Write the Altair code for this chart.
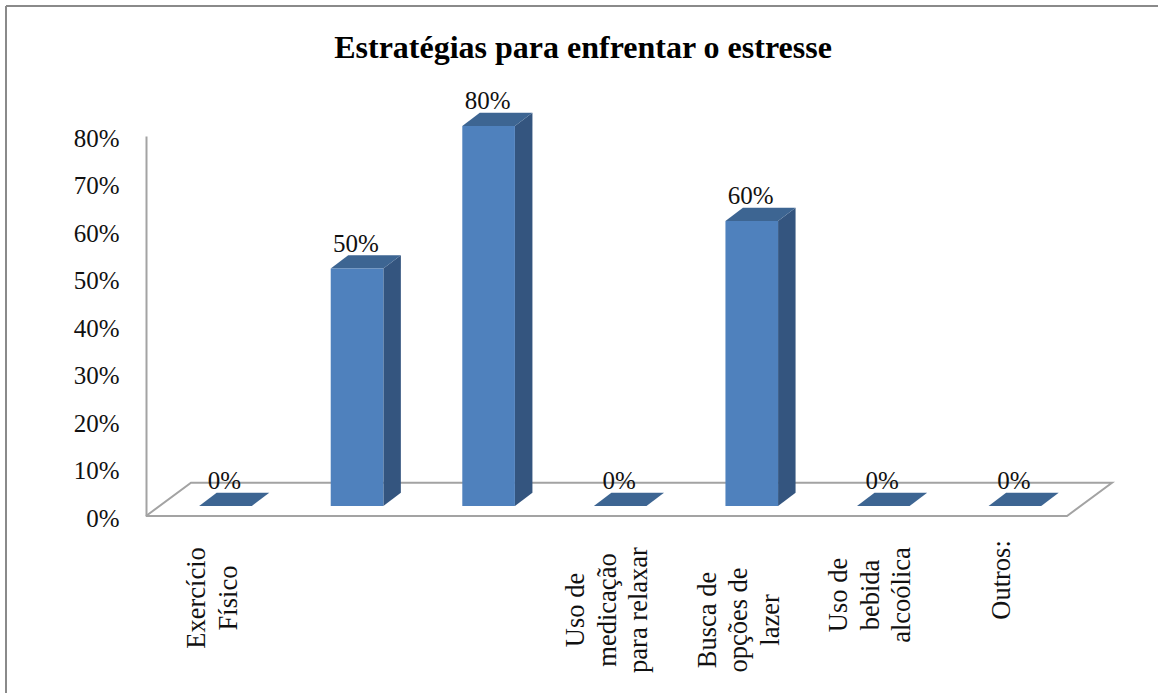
import altair as alt
import pandas as pd

# Survey results: share of respondents per coping strategy
categories = [
    "Exercício\nFísico",
    "",
    "",
    "Uso de\nmedicação\npara relaxar",
    "Busca de\nopções de\nlazer",
    "Uso de\nbebida\nalcoólica",
    "Outros:",
]
values = [0, 50, 80, 0, 60, 0, 0]
y_ticks = [0, 10, 20, 30, 40, 50, 60, 70, 80]
title_text = "Estratégias para enfrentar o estresse"

FONT = "Liberation Serif"
GREY = "#a3a3a3"
FRONT, TOP, SIDE = "#4f81bd", "#3d6592", "#34557f"

# Oblique projection: floor depth and bar depth, in axis units
FLOOR_DX, FLOOR_DY = 0.342, 7.0
BAR_DX, BAR_DY = 0.133, 2.82
BASE_LIFT = 2.1  # bars stand part-way back on the floor
BAR_START, BAR_WIDTH = 0.404, 0.40
n = len(categories)

PLOT_W, PLOT_H = 966, 380
PX_PER_X = PLOT_W / (n + FLOOR_DX)
PX_PER_Y = PLOT_H / 80

# Category label layout: distance of each text block's centre below the zero line, in px
LABEL_DROP = {0: 82, 3: 94, 4: 104, 5: 79, 6: 64}
LABEL_LINE_H = 31.5

x_scale = alt.Scale(domain=[0, n + FLOOR_DX], nice=False, zero=False)
y_scale = alt.Scale(domain=[0, 80], nice=False)
X = alt.X("x:Q", scale=x_scale, axis=None)

# Floor outline
floor = pd.DataFrame(
    {
        "x": [0, n, n + FLOOR_DX, FLOOR_DX, 0],
        "y": [0, 0, FLOOR_DY, FLOOR_DY, 0],
        "o": range(5),
    }
)
floor_layer = (
    alt.Chart(floor)
    .mark_line(color=GREY, strokeWidth=2, clip=False)
    .encode(
        x=X,
        y=alt.Y(
            "y:Q",
            scale=y_scale,
            axis=alt.Axis(
                values=y_ticks,
                title=None,
                labelExpr="datum.value + '%'",
                grid=False,
                ticks=False,
                domainColor=GREY,
                domainWidth=2,
                labelFont=FONT,
                labelFontSize=25,
                labelColor="#111111",
                labelPadding=27,
                labelOffset=2,
            ),
        ),
        order="o:Q",
    )
)

# Faces of each box, built from the series values
front_rows, top_rows, side_rows, label_rows, cat_rows = [], [], [], [], []
for i, (cat, v) in enumerate(zip(categories, values)):
    left = i + BAR_START
    right = left + BAR_WIDTH
    top_y = v + BASE_LIFT
    front_rows.append({"i": i, "x": left, "x2": right, "y": BASE_LIFT, "y2": top_y})
    top_rows += [
        {"i": i, "x": left, "y": top_y, "y2": top_y},
        {"i": i, "x": left + BAR_DX, "y": top_y + BAR_DY, "y2": top_y},
        {"i": i, "x": right, "y": top_y + BAR_DY, "y2": top_y},
        {"i": i, "x": right + BAR_DX, "y": top_y + BAR_DY, "y2": top_y + BAR_DY},
    ]
    side_rows += [
        {"i": i, "x": right, "y": top_y, "y2": BASE_LIFT},
        {"i": i, "x": right + BAR_DX, "y": top_y + BAR_DY, "y2": BASE_LIFT + BAR_DY},
    ]
    label_rows.append(
        {"x": left + BAR_WIDTH / 2 - 0.008, "y": top_y + BAR_DY + 0.7, "t": f"{v}%"}
    )
    if cat:
        # Vega anchors multi-line rotated text at its first line, so shift the block back
        line_count = cat.count("\n") + 1
        shift_px = (line_count - 1) * LABEL_LINE_H / 2 - 1
        cat_rows.append(
            {
                "x": i + 0.5 - shift_px / PX_PER_X,
                "y": -LABEL_DROP[i] / PX_PER_Y,
                "t": cat,
            }
        )

front_layer = (
    alt.Chart(pd.DataFrame(front_rows))
    .mark_rect(color=FRONT)
    .encode(x=X, x2="x2:Q", y=alt.Y("y:Q", scale=y_scale), y2="y2:Q")
)
top_layer = (
    alt.Chart(pd.DataFrame(top_rows))
    .mark_area(color=TOP, opacity=1)
    .encode(x=X, y=alt.Y("y:Q", scale=y_scale), y2="y2:Q", detail="i:N")
)
side_layer = (
    alt.Chart(pd.DataFrame(side_rows))
    .mark_area(color=SIDE, opacity=1)
    .encode(x=X, y=alt.Y("y:Q", scale=y_scale), y2="y2:Q", detail="i:N")
)
value_labels = (
    alt.Chart(pd.DataFrame(label_rows))
    .mark_text(font=FONT, fontSize=25, color="#111111", baseline="alphabetic")
    .encode(x=X, y=alt.Y("y:Q", scale=y_scale), text="t:N")
)
category_labels = (
    alt.Chart(pd.DataFrame(cat_rows))
    .mark_text(
        font=FONT,
        fontSize=26.5,
        color="#111111",
        angle=270,
        align="center",
        baseline="middle",
        lineBreak="\n",
        lineHeight=LABEL_LINE_H,
    )
    .encode(x=X, y=alt.Y("y:Q", scale=y_scale), text="t:N")
)

# Thin frame around the figure (open at the bottom and right edge of the page)
frame_top = (
    alt.Chart(pd.DataFrame({"a": [0]}))
    .mark_rule(color="#8a8a8a", strokeWidth=2)
    .encode(x=alt.value(-140), x2=alt.value(1012), y=alt.value(-130))
)
frame_left = (
    alt.Chart(pd.DataFrame({"a": [0]}))
    .mark_rule(color="#8a8a8a", strokeWidth=2)
    .encode(x=alt.value(-140), y=alt.value(-130), y2=alt.value(557))
)

chart = (
    alt.layer(
        frame_top,
        frame_left,
        floor_layer,
        side_layer,
        top_layer,
        front_layer,
        value_labels,
        category_labels,
    )
    .properties(
        width=PLOT_W,
        height=PLOT_H,
        background="#ffffff",
        title=alt.TitleParams(
            text=title_text,
            font=FONT,
            fontSize=32,
            fontWeight="bold",
            color="#000000",
            anchor="middle",
            dx=-46,
            dy=60,
            offset=0,
        ),
        autosize=alt.AutoSizeParams(type="none"),
        padding={"left": 146, "top": 136, "right": 46, "bottom": 177},
    )
    .configure_view(stroke=None)
)

chart.save("out.html", embed_options={"renderer": "svg", "actions": False})
